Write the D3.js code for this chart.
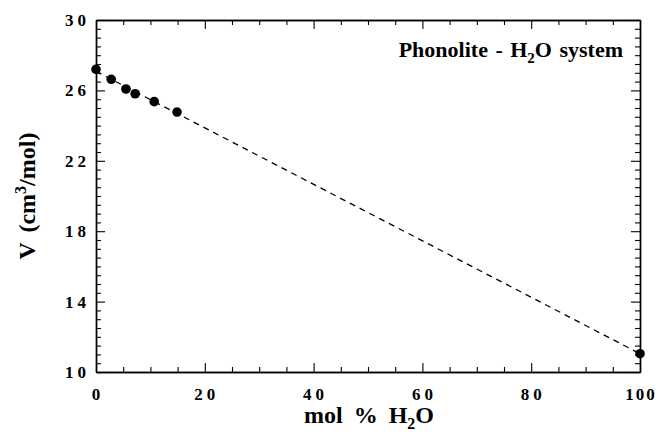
<!DOCTYPE html>
<html>
<head>
<meta charset="utf-8">
<script src="https://cdn.jsdelivr.net/npm/d3@7"></script>
<style>
  body { margin: 0; background: #fff; }
  svg text { font-family: "Liberation Serif", "Times New Roman", serif; font-weight: bold; fill: #000; }
  .axis path, .axis line { stroke: #000; }
  .axis path { stroke-width: 1.4; }
  .axis line { stroke-width: 1.1; }
</style>
</head>
<body>
<svg id="chart" width="658" height="436"></svg>
<script>
// measured points, phonolite - water
var waterMol = [0, 2.8, 5.5, 7.2, 10.7, 14.9, 100];
var molarVolume = [27.2, 26.63, 26.08, 25.81, 25.36, 24.77, 11.04];
// dashed linear fit
var fitX = [0, 100];
var fitV = [27.08, 11.04];

var xTicks = [0, 20, 40, 60, 80, 100];
var yTicks = [10, 14, 18, 22, 26, 30];

var svg = d3.select('#chart');
var plotL = 96, plotT = 20, plotR = 640, plotB = 372;

var x = d3.scaleLinear().domain([0, 100]).range([plotL, plotR]);
var y = d3.scaleLinear().domain([10, 30]).range([plotB, plotT]);

var minorX = d3.range(0, 100.1, 5).filter(function(v){ return v % 20 !== 0; });
var minorY = d3.range(10, 30.01, 0.5).filter(function(v){ return (v - 10) % 4 !== 0; });

function drawAxis(axisFn, scale, major, minor, tr, majorLen, minorLen) {
  svg.append('g').attr('class', 'axis').attr('transform', tr)
    .call(axisFn(scale).tickValues(minor).tickSizeInner(-minorLen).tickSizeOuter(0).tickFormat(''));
  svg.append('g').attr('class', 'axis').attr('transform', tr)
    .call(axisFn(scale).tickValues(major).tickSizeInner(-majorLen).tickSizeOuter(0).tickFormat(''));
}

drawAxis(d3.axisBottom, x, xTicks, minorX, 'translate(0,' + plotB + ')', 9, 5);
drawAxis(d3.axisTop, x, xTicks, minorX, 'translate(0,' + plotT + ')', 9, 5);
drawAxis(d3.axisLeft, y, yTicks, minorY, 'translate(' + plotL + ',0)', 9, 5);
drawAxis(d3.axisRight, y, yTicks, minorY, 'translate(' + plotR + ',0)', 9, 5);

// tick labels (spaced digits like the original)
svg.append('g').selectAll('text').data(xTicks).enter().append('text')
  .attr('x', function(d){ return x(d) + (d === 100 ? 1 : 2); })
  .attr('y', 400)
  .attr('text-anchor', 'middle')
  .style('font-size', '17px')
  .style('letter-spacing', function(d){ return d === 100 ? '2px' : '4px'; })
  .text(function(d){ return d; });

svg.append('g').selectAll('text').data(yTicks).enter().append('text')
  .attr('x', 90)
  .attr('y', function(d){ return y(d) + 6; })
  .attr('text-anchor', 'end')
  .style('font-size', '17px')
  .style('letter-spacing', '4px')
  .text(function(d){ return d; });

// fit line
var line = d3.line().x(function(d){ return x(d[0]); }).y(function(d){ return y(d[1]); });
svg.append('path')
  .datum(d3.zip(fitX, fitV))
  .attr('d', line)
  .attr('fill', 'none')
  .attr('stroke', '#000')
  .attr('stroke-width', 1.3)
  .attr('stroke-dasharray', '6,5');

svg.append('g').selectAll('circle').data(d3.zip(waterMol, molarVolume)).enter().append('circle')
  .attr('cx', function(d){ return x(d[0]); })
  .attr('cy', function(d){ return y(d[1]); })
  .attr('r', 4.8)
  .attr('fill', '#000');

// title
var title = svg.append('text').attr('x', 623).attr('y', 57).attr('text-anchor', 'end')
  .style('font-size', '22px').style('word-spacing', '2px');
title.append('tspan').text('Phonolite - H');
title.append('tspan').attr('dy', 6).style('font-size', '15px').text('2');
title.append('tspan').attr('dy', -6).text('O system');

// x label
var xl = svg.append('text').attr('x', 369).attr('y', 423).attr('text-anchor', 'middle')
  .style('font-size', '24px').style('word-spacing', '5px');
xl.append('tspan').text('mol % H');
xl.append('tspan').attr('dy', 6).style('font-size', '16px').text('2');
xl.append('tspan').attr('dy', -6).text('O');

// y label
var yl = svg.append('text').attr('transform', 'translate(35,196) rotate(-90)').attr('text-anchor', 'middle')
  .style('font-size', '24px').style('word-spacing', '4px');
yl.append('tspan').text('V (cm');
yl.append('tspan').attr('dy', -9).style('font-size', '16px').text('3');
yl.append('tspan').attr('dy', 9).text('/mol)');
</script>
</body>
</html>
